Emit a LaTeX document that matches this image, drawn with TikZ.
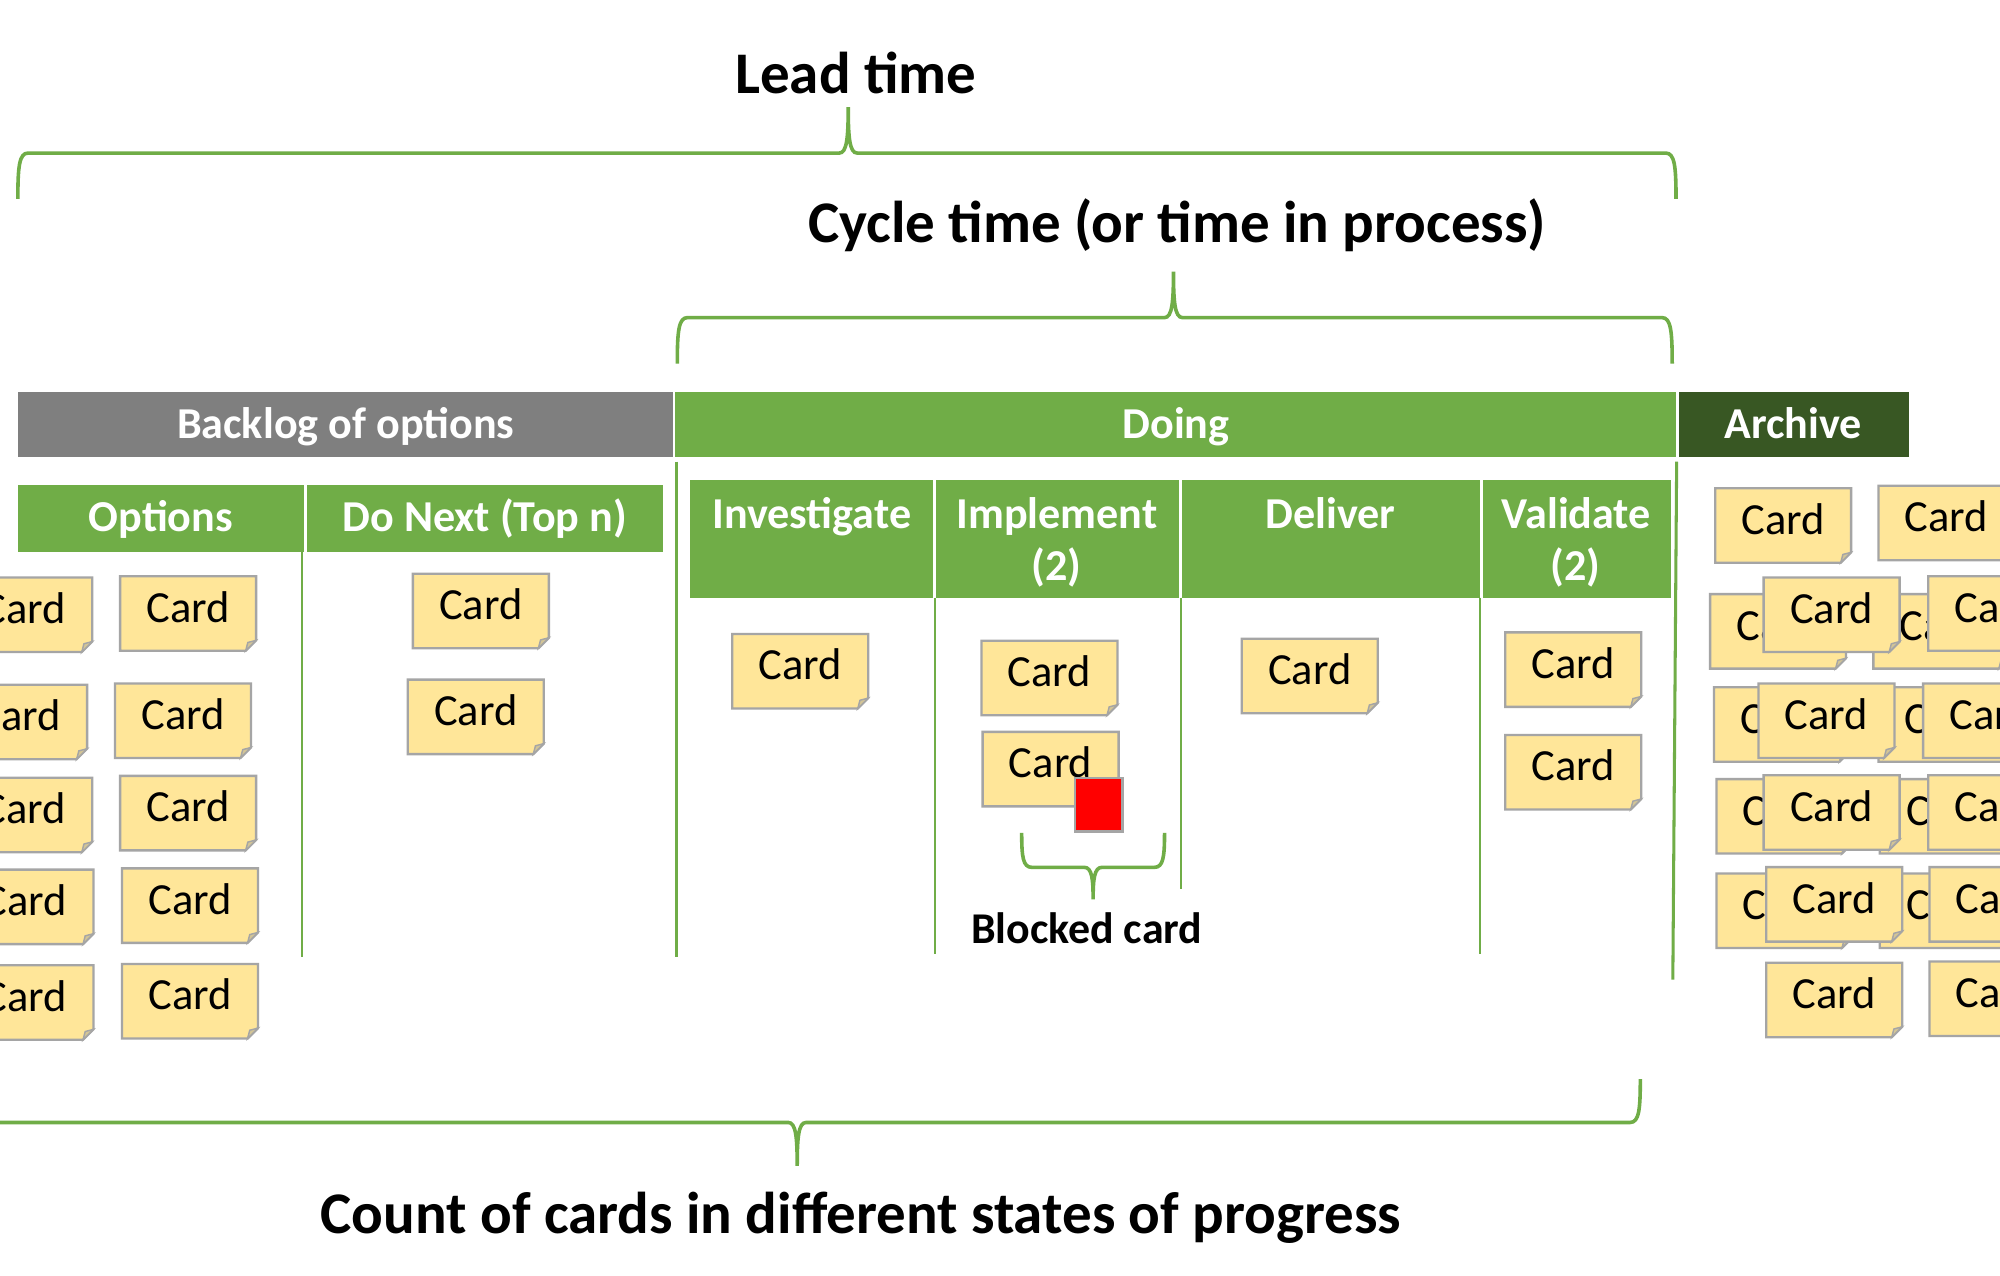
\documentclass[tikz,border=0pt]{standalone}
\usepackage{fontspec}
\setmainfont{Carlito}
\definecolor{kgreen}{HTML}{70AD47}
\definecolor{kgray}{HTML}{7F7F7F}
\definecolor{kdark}{HTML}{385723}
\definecolor{cardfill}{HTML}{FFE699}
\definecolor{cardline}{HTML}{A5A5A5}
\definecolor{foldfill}{HTML}{D3C596}
\tikzset{
 titletext/.style={anchor=base, inner sep=0, font=\bfseries\fontsize{32.9}{39}\selectfont},
 headtext/.style={anchor=base, inner sep=0, text=white, font=\bfseries\fontsize{24.6}{29}\selectfont},
 blocktext/.style={anchor=base, inner sep=0, font=\bfseries\fontsize{24.5}{29}\selectfont},
 cardtext/.style={anchor=base, inner sep=0, font=\fontsize{24.8}{29}\selectfont},
 cardbody/.style={fill=cardfill, draw=cardline, line width=1.3pt, line join=miter},
 cardfold/.style={fill=foldfill, draw=cardline, line width=0.8pt},
 brace/.style={draw=kgreen, line width=2pt},
 colline/.style={draw=kgreen, line width=1.1pt},
 mainline/.style={draw=kgreen, line width=1.7pt},
}
% #1 x1, #2 xc, #3 x2, #4 yend, #5 ymid, #6 ytip
\newcommand\bracepath[6]{%
 \draw[brace] (#1,#4) .. controls (#1,{#5+0.3*(#4-#5)}) and ({#1+1},#5) .. ({#1+8},#5)
   -- ({#2-7},#5) .. controls ({#2-1},#5) and (#2,{#5+0.35*(#6-#5)}) .. (#2,#6)
   .. controls (#2,{#5+0.35*(#6-#5)}) and ({#2+1},#5) .. ({#2+7},#5)
   -- ({#3-8},#5) .. controls ({#3-1},#5) and (#3,{#5+0.3*(#4-#5)}) .. (#3,#4);
}
\newcommand\cardat[3]{%
 \filldraw[cardbody,shift={(#2,#3)}] (-53.3,-29.2) -- (53.3,-29.2) -- (53.3,21) -- (45.1,29.2) -- (-53.3,29.2) -- cycle;
 \filldraw[cardfold,shift={(#2,#3)}] (53.3,21) -- (45.1,29.2) -- (46.8,22.7) -- cycle;
 \node[cardtext] (#1) at (#2,#3+6.8) {Card};
}
\begin{document}
\begin{tikzpicture}[x=0.025cm,y=-0.025cm]
\useasboundingbox (0,0) rectangle (1568,1000);
\clip (0,0) rectangle (1568,1000);
\fill[white] (0,0) rectangle (1568,1000);

% titles
\node[titletext] (lead) at (671,73) {Lead time};
\node[titletext] (cycle) at (923,190) {Cycle time (or time in process)};
\node[titletext] (count) at (675,967) {Count of cards in different states of progress};

% braces
\bracepath{14}{665}{1314}{156}{120}{84}
\bracepath{531}{920}{1311}{285}{249}{213}
\bracepath{-20}{625}{1286}{846}{880}{914}
\bracepath{801}{857}{913}{653}{680}{705}

% top headers
\fill[kgray] (14,307) rectangle (528,358.5);
\fill[kgreen] (529.5,307) rectangle (1314,358.5);
\fill[kdark] (1316,307) rectangle (1496.5,358.5);
\node[headtext] (backlog) at (271,344) {Backlog of options};
\node[headtext] (doing) at (922,344) {Doing};
\node[headtext] (archive) at (1406,344) {Archive};

% sub headers
\fill[kgreen] (14,380.5) rectangle (238.7,433);
\fill[kgreen] (240.5,380.5) rectangle (519.8,433);
\fill[kgreen] (541,376.5) rectangle (731.7,468.5);
\fill[kgreen] (733.8,376.5) rectangle (924.5,468.5);
\fill[kgreen] (926.6,376.5) rectangle (1160,468.5);
\fill[kgreen] (1162.3,376.5) rectangle (1310.4,468.5);
\node[headtext] (options) at (126,417) {Options};
\node[headtext] (donext) at (380,417) {Do Next (Top n)};
\node[headtext] (investigate) at (636.4,414) {Investigate};
\node[headtext] (implement) at (828.7,414) {Implement};
\node[headtext] (implementb) at (828.5,455) {(2)};
\node[headtext] (deliver) at (1043,414) {Deliver};
\node[headtext] (validate) at (1235.8,414) {Validate};
\node[headtext] (validateb) at (1235,455) {(2)};

% column lines
\draw[colline] (236.6,433) -- (236.6,750);
\draw[mainline] (530,362) -- (530,750);
\draw[colline] (732.7,468.5) -- (732.7,748);
\draw[colline] (926,468.5) -- (926,697);
\draw[colline] (1160,468.5) -- (1160,748);
\draw[mainline] (1314.5,362) -- (1311.5,768);

% options cards
\cardat{o11}{19}{482}
\cardat{o12}{15}{566}
\cardat{o13}{19}{639}
\cardat{o14}{20}{711}
\cardat{o15}{20}{786}
\cardat{o21}{147.5}{481}
\cardat{o22}{143.5}{565}
\cardat{o23}{147.5}{637.5}
\cardat{o24}{149}{710}
\cardat{o25}{149}{785}
% do next
\cardat{n1}{377}{479}
\cardat{n2}{373}{562}
% doing
\cardat{inv1}{627.4}{526.3}
\cardat{imp1}{822.8}{531.5}
\cardat{imp2}{823.7}{603}
\filldraw[fill=red, draw=cardline, line width=1.3pt] (843,610) rectangle (880,652);
\cardat{del1}{1026.8}{530}
\cardat{val1}{1233.4}{525}
\cardat{val2}{1233.4}{605.4}
\node[blocktext] (blocked) at (852,740) {Blocked card};

% archive
\cardat{a11}{1398}{412}
\cardat{a12}{1526}{410}
\cardat{a21}{1394}{495}
\cardat{a23}{1522}{495}
\cardat{a22}{1436}{482}
\cardat{a24}{1565}{481}
\cardat{a31}{1397}{568}
\cardat{a33}{1526}{568}
\cardat{a32}{1432}{565}
\cardat{a34}{1561}{565}
\cardat{a41}{1399}{640}
\cardat{a43}{1527}{640}
\cardat{a42}{1436}{637}
\cardat{a44}{1565}{637}
\cardat{a51}{1399}{714}
\cardat{a53}{1527}{714}
\cardat{a52}{1438}{709}
\cardat{a54}{1566}{709}
\cardat{a62}{1438}{784}
\cardat{a64}{1566}{783}
\end{tikzpicture}
\end{document}
